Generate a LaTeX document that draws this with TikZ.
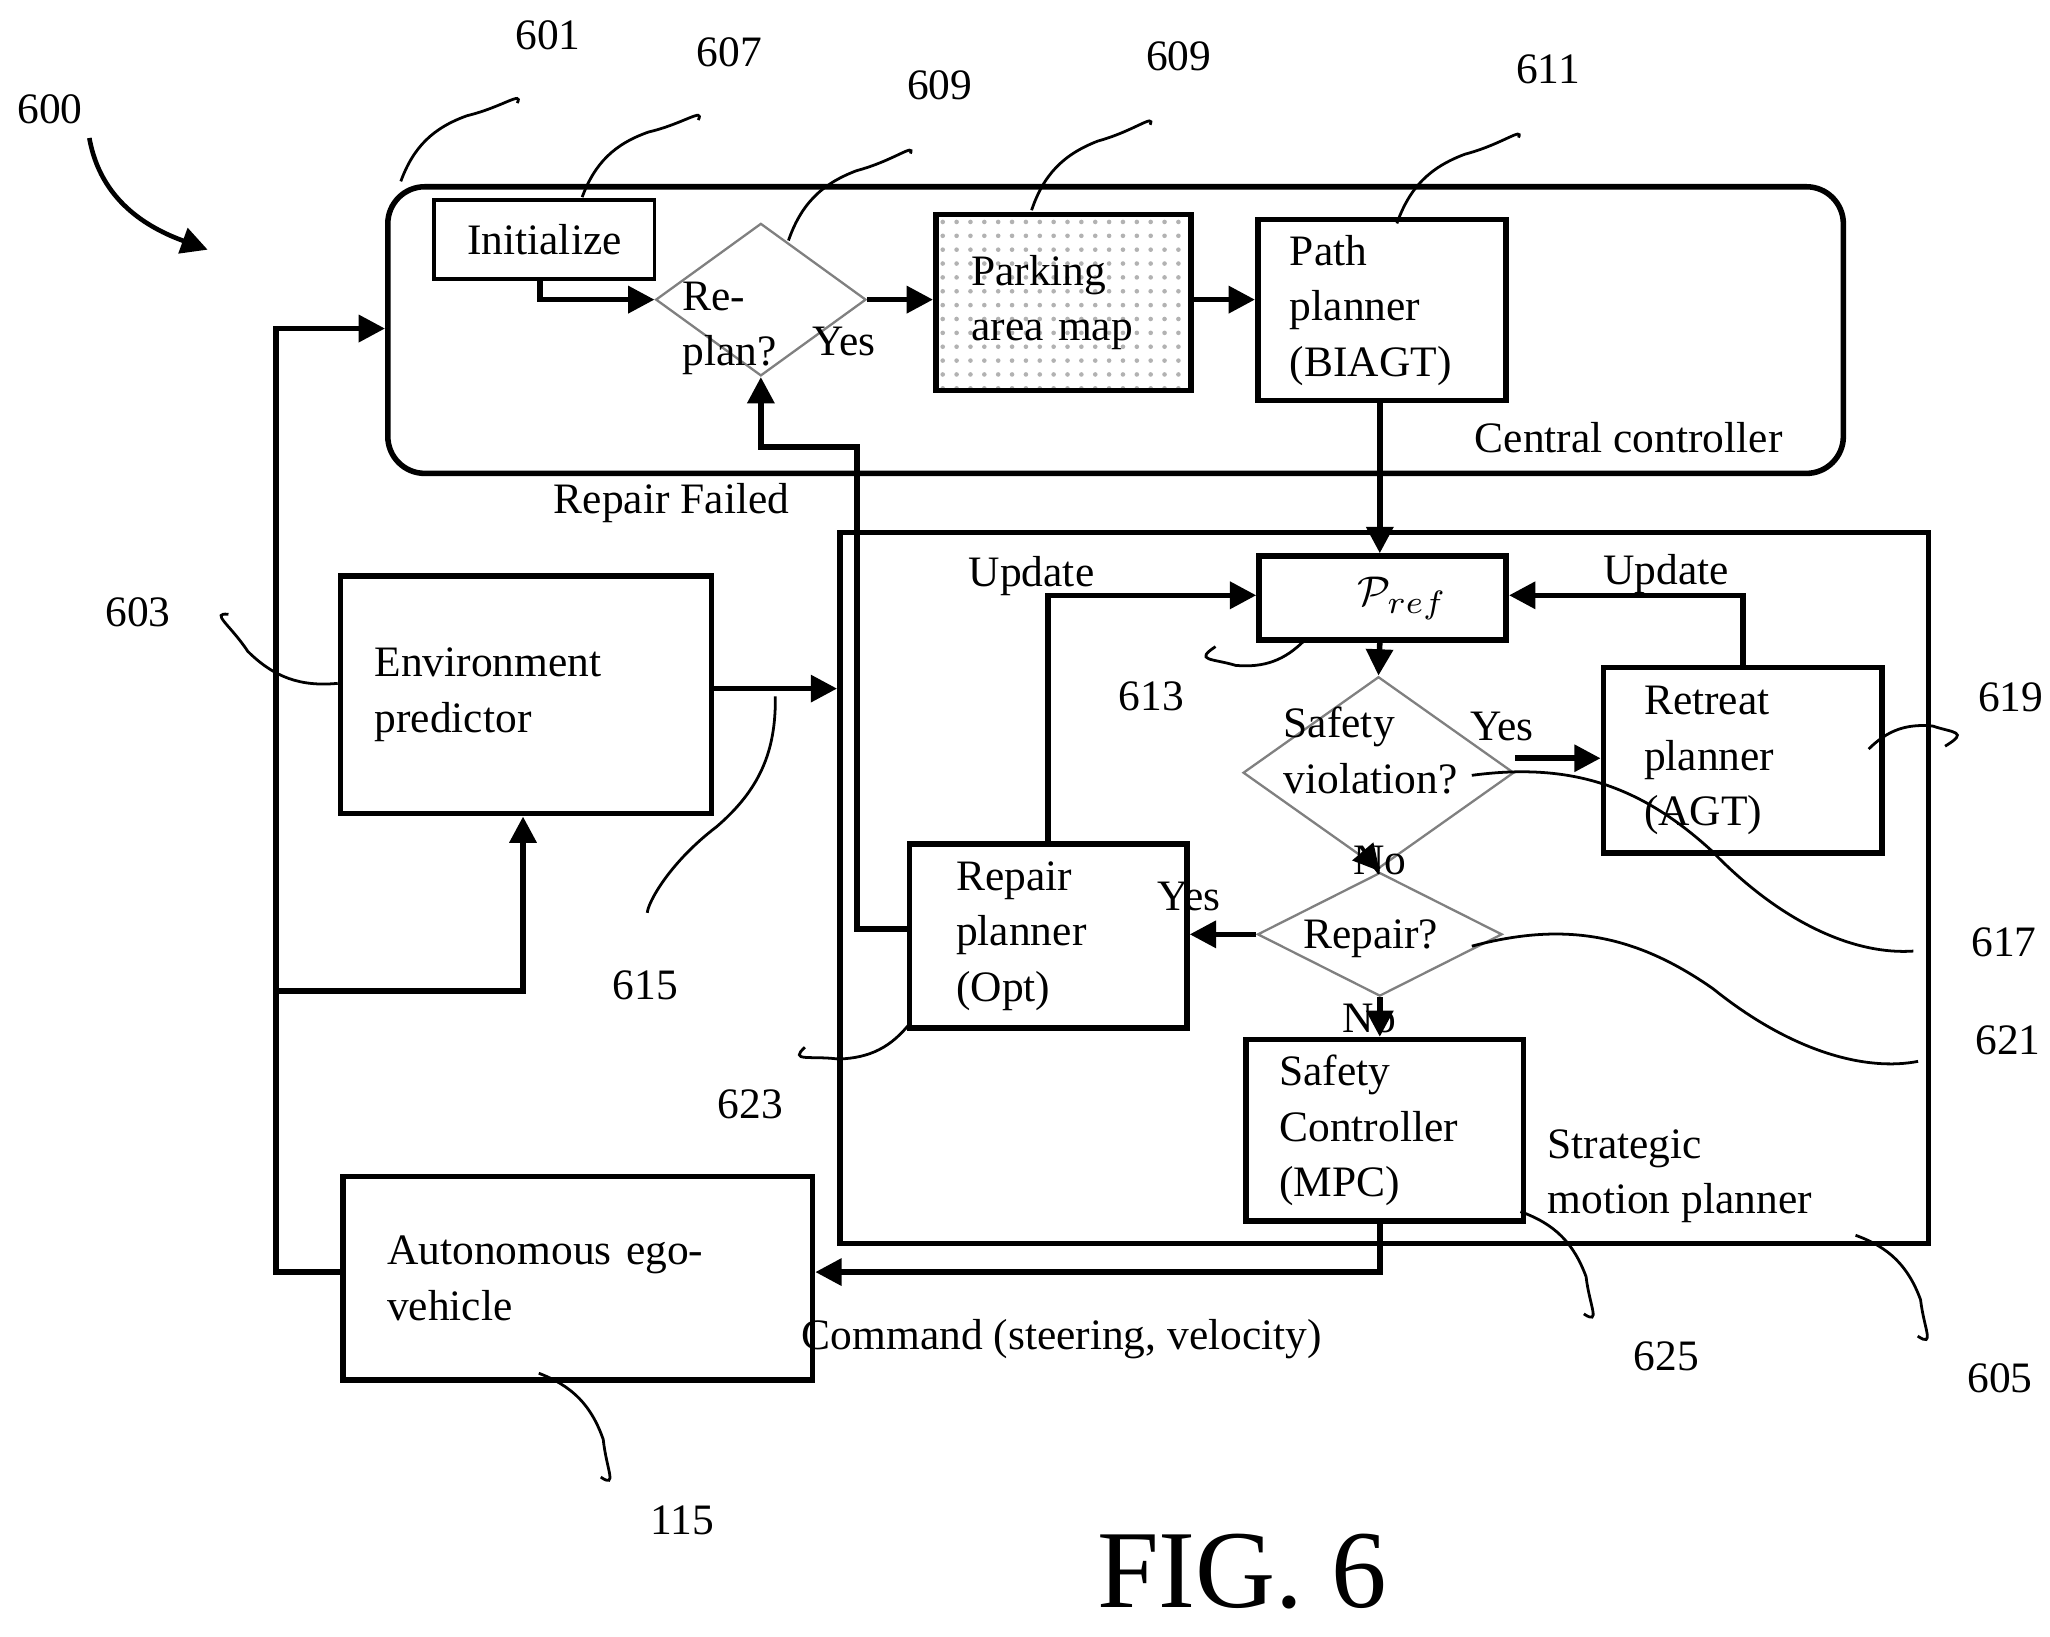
\documentclass[tikz,border=0pt]{standalone}
\usepackage{fontspec}
\setmainfont{Liberation Serif}
\usetikzlibrary{shapes.geometric,arrows.meta,patterns,calc}
\begin{document}
\begin{tikzpicture}[x=0.01cm,y=-0.01cm,
                    font=\fontsize{9.4}{12}\selectfont,
                    line width=1.2pt,
                    >={Triangle[length=2mm,width=2mm]}]
    \tikzstyle{block}=[draw,rectangle,inner xsep=0.22cm,align=left,anchor=north west]
    \tikzstyle{decide}=[draw=gray,line width=0.5pt,diamond,inner sep=0pt]
    \tikzstyle{lbl}=[inner sep=1pt]
    \tikzstyle{leader}=[line width=0.6pt]
    \useasboundingbox (0,0) rectangle (1560,1245);

    % frames
    \node[block,rounded corners=8pt,minimum width=11.07cm,minimum height=2.18cm] (central) at (293,140) {};
    \node[lbl,anchor=east] (centrallbl) at (1362,333) {Central controller};
    \node[block,minimum width=8.28cm,minimum height=5.41cm] (strategic) at (637,403) {};
    \node[lbl,align=left,anchor=west] (strategiclbl) at (1172,895) {Strategic\\ motion planner};

    % central controller
    \node[block,line width=0.7pt,align=center,minimum width=1.68cm,minimum height=0.6cm] (init) at (329,151) {Initialize};
    \node[decide,minimum width=1.6cm,minimum height=1.16cm] (replan) at (579,228) {};
    \node[lbl,align=left] (replanlbl) at (555,250) {Re-\\plan?};
    \node[block,pattern=dots,pattern color=gray!60,minimum width=1.94cm,minimum height=1.34cm,text width=1.4cm] (map) at (710,161) {Parking\\ area map};
    \node[block,minimum width=1.89cm,minimum height=1.36cm,text width=1.4cm] (path) at (955,165) {Path\\ planner\\ (BIAGT)};

    % strategic motion planner
    \node[block,minimum width=1.88cm,minimum height=0.64cm,align=center] (pref) at (956,421) {\hspace*{0.3cm}$\mathcal{P}_{ref}$};
    \node[decide,minimum width=2.06cm,minimum height=1.46cm] (safety) at (1049,588) {};
    \node[lbl,align=left] (safetylbl) at (1043,571) {Safety\\ violation?};
    \node[block,minimum width=2.12cm,minimum height=1.41cm,text width=1.5cm] (retreat) at (1218,506) {Retreat\\ planner\\ (AGT)};
    \node[decide,minimum width=1.86cm,minimum height=0.94cm] (repair) at (1050,711) {};
    \node[lbl] (repairlbl) at (1043,714) {Repair?};
    \node[block,minimum width=2.11cm,minimum height=1.4cm,text width=1.4cm] (rplanner) at (690,640) {Repair\\ planner\\ (Opt)};
    \node[block,minimum width=2.11cm,minimum height=1.38cm,text width=1.6cm] (mpc) at (946,789) {Safety\\ Controller\\ (MPC)};

    % outside
    \node[block,minimum width=2.82cm,minimum height=1.81cm,text width=2.3cm] (env) at (257,436) {Environment\\ predictor};
    \node[block,minimum width=3.57cm,minimum height=1.55cm,text width=2.9cm] (ego) at (259,893) {Autonomous ego-\\vehicle};

    % flow
    \draw[->] (init.south -| 411,0) |- (replan.west);
    \draw[->] (replan.east) -- (map.west |- replan.east);
    \draw[->] (map.east |- 0,228) -- (path.west |- 0,228);
    \node[lbl] (yes1) at (642,260) {Yes};
    \draw[->] (path.south -| 1050,0) -- (pref.north -| 1050,0);
    \draw[->] (pref.south -| 1050,0) -- (safety.north);
    \draw[->] (safety.east |- 0,577) -- (retreat.west |- 0,577);
    \node[lbl] (yes2) at (1143,553) {Yes};
    \draw[->] (safety.south) -- (repair.north);
    \node[lbl] (no1) at (1050,655) {No};
    \draw[->] (repair.west) -- (rplanner.east |- repair.west);
    \node[lbl] (yes3) at (905,682) {Yes};
    \draw[->] (repair.south) -- (mpc.north -| repair.south);
    \node[lbl] (no2) at (1042,775) {No};
    \draw[->] (retreat.north) |- (pref.east |- 0,453);
    \node[lbl] (upd1) at (1268,437) {Update};
    \draw[->] (rplanner.north) |- (pref.west |- 0,453);
    \node[lbl] (upd2) at (785,438) {Update};
    \draw[->] (rplanner.west |- 0,707) -- (652,707) -- (652,340) -| (replan.south);
    \node[lbl] (failed) at (511,383) {Repair Failed};
    \draw[->] (mpc.south -| 1050,0) |- (ego.east |- 0,968);
    \node[lbl] (cmd) at (808,1019) {Command (steering, velocity)};
    \draw[->] (ego.west |- 0,968) -- (210,968) |- (central.west |- 0,250);
    \draw[->] (210,754) -| (env.south -| 398,0);
    \draw[->] (env.east |- 0,524) -- (strategic.west |- 0,524);

    % reference numerals
    \tikzstyle{num}=[inner sep=1pt]
    \node[num] (n600) at (38,83) {600};
    \draw[->,leader,line width=1pt] (68,105) to[out=-80,in=160] (158,190);
    \foreach \n/\lx/\ly/\ex/\ey in {601/417/27/305/138, 607/555/40/443/150, 609/715/65/600/183,
        609/897/43/785/160, 611/1178/53/1063/170, 603/105/466/257/520, 613/876/530/993/487,
        615/491/750/590/530, 619/1530/531/1422/570, 617/1525/717/1120/590, 621/1528/792/1120/720,
        623/571/840/693/778, 625/1268/1032/1157/922, 605/1522/1049/1412/940, 115/519/1157/410/1045}{
        \node[num] (l\n) at (\lx,\ly) {\n};
        \coordinate (e\n) at (\ex,\ey);
        \coordinate (m\n) at ($(l\n)!0.55!(e\n)$);
        \draw[leader,shorten <=11pt] (l\n) to[bend left=25] (m\n) to[bend right=25] (e\n);
    }

    \node (fig) at (945,1196) {\fontsize{24}{27}\selectfont FIG. 6};
\end{tikzpicture}
\end{document}
